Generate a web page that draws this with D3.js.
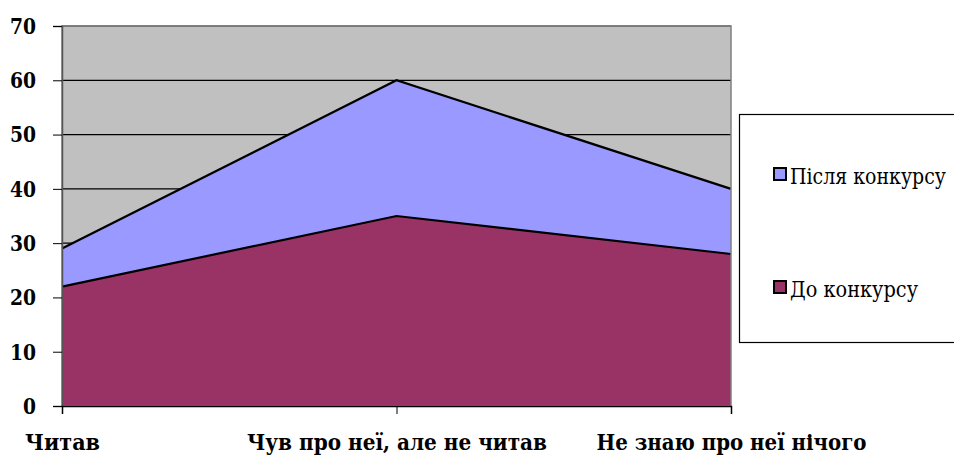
<!DOCTYPE html>
<html>
<head>
<meta charset="utf-8">
<script src="https://cdn.jsdelivr.net/npm/d3@7"></script>
<style>
  body { margin: 0; background: #fff; }
  svg { display: block; }
  svg text { font-family: "DejaVu Serif"; }
</style>
</head>
<body>
<svg id="chart" width="954" height="457"></svg>
<script>
const categories = ["Читав", "Чув про неї, але не читав", "Не знаю про неї нічого"];
const beforeVals = [22, 35, 28];
const afterVals = [29, 60, 40];
const yTicks = [0, 10, 20, 30, 40, 50, 60, 70];
const seriesNames = ["Після конкурсу", "До конкурсу"];

// widths the labels take in the picture
const catLabelWidth = [75, 300, 270];
const legendLabelWidth = [156, 128];

const svg = d3.select("#chart");
const plotL = 62, plotR = 731, plotT = 26, plotB = 406;

const x = d3.scalePoint().domain(categories).range([plotL, plotR]);
const y = d3.scaleLinear().domain([0, 70]).range([plotB, plotT]);

// plot background
svg.append("rect")
    .attr("x", plotL).attr("y", plotT)
    .attr("width", plotR - plotL).attr("height", plotB - plotT)
    .attr("fill", "#c0c0c0");

// gridlines
svg.append("g").selectAll("line")
    .data(yTicks.filter(d => d > 0))
    .enter().append("line")
    .attr("x1", plotL).attr("x2", plotR)
    .attr("y1", d => y(d)).attr("y2", d => y(d))
    .attr("stroke", "#000").attr("stroke-width", 1.2);

function areaFor(vals) {
    return d3.area()
        .x((d, i) => x(categories[i]))
        .y0(plotB)
        .y1(d => y(d))(vals);
}
function lineFor(vals) {
    return d3.line()
        .x((d, i) => x(categories[i]))
        .y(d => y(d))(vals);
}

svg.append("path").attr("d", areaFor(afterVals)).attr("fill", "#9999ff");
svg.append("path").attr("d", lineFor(afterVals)).attr("fill", "none")
    .attr("stroke", "#000").attr("stroke-width", 2.2);
svg.append("path").attr("d", areaFor(beforeVals)).attr("fill", "#993366");
svg.append("path").attr("d", lineFor(beforeVals)).attr("fill", "none")
    .attr("stroke", "#000").attr("stroke-width", 2.2);

// plot border
svg.append("rect")
    .attr("x", plotL).attr("y", plotT)
    .attr("width", plotR - plotL).attr("height", plotB - plotT)
    .attr("fill", "none").attr("stroke", "#808080").attr("stroke-width", 1.5);

// y axis
const yAxis = svg.append("g")
    .attr("transform", "translate(" + plotL + ",0)")
    .call(d3.axisLeft(y).tickValues(yTicks).tickSize(9).tickPadding(17));
yAxis.attr("font-family", null);
yAxis.select(".domain").attr("stroke", "#555").attr("stroke-width", 1.5);
yAxis.selectAll(".tick line").attr("stroke", "#000");
yAxis.selectAll("text")
    .attr("font-weight", "bold").attr("font-size", 23).attr("fill", "#000")
    .attr("textLength", 26).attr("lengthAdjust", "spacingAndGlyphs")
    .filter(d => d === 0).attr("textLength", 13);

// x axis
const xAxis = svg.append("g")
    .attr("transform", "translate(0," + plotB + ")")
    .call(d3.axisBottom(x).tickSize(8).tickPadding(20));
xAxis.attr("font-family", null);
xAxis.select(".domain").attr("stroke", "#000").attr("stroke-width", 1.5);
xAxis.selectAll(".tick line").attr("stroke", "#000");
xAxis.selectAll("text")
    .attr("font-weight", "bold").attr("font-size", 23).attr("fill", "#000")
    .attr("dy", "0.71em")
    .attr("textLength", (d, i) => catLabelWidth[i])
    .attr("lengthAdjust", "spacingAndGlyphs");

// legend
const legend = svg.append("g");
legend.append("rect")
    .attr("x", 739.5).attr("y", 114.5).attr("width", 230).attr("height", 228)
    .attr("fill", "#fff").attr("stroke", "#000").attr("stroke-width", 1.2);
const legendColors = ["#9999ff", "#993366"];
const ly = d3.scalePoint().domain(seriesNames).range([174, 287]);
const items = legend.selectAll("g.item").data(seriesNames).enter().append("g").attr("class", "item");
items.append("rect")
    .attr("x", 774).attr("y", d => ly(d) - 6)
    .attr("width", 12).attr("height", 12)
    .attr("fill", (d, i) => legendColors[i])
    .attr("stroke", "#000").attr("stroke-width", 2);
items.append("text")
    .attr("x", 790).attr("y", d => ly(d) + 10)
    .attr("font-size", 22).attr("fill", "#000")
    .attr("textLength", (d, i) => legendLabelWidth[i])
    .attr("lengthAdjust", "spacingAndGlyphs")
    .text(d => d);
</script>
</body>
</html>
